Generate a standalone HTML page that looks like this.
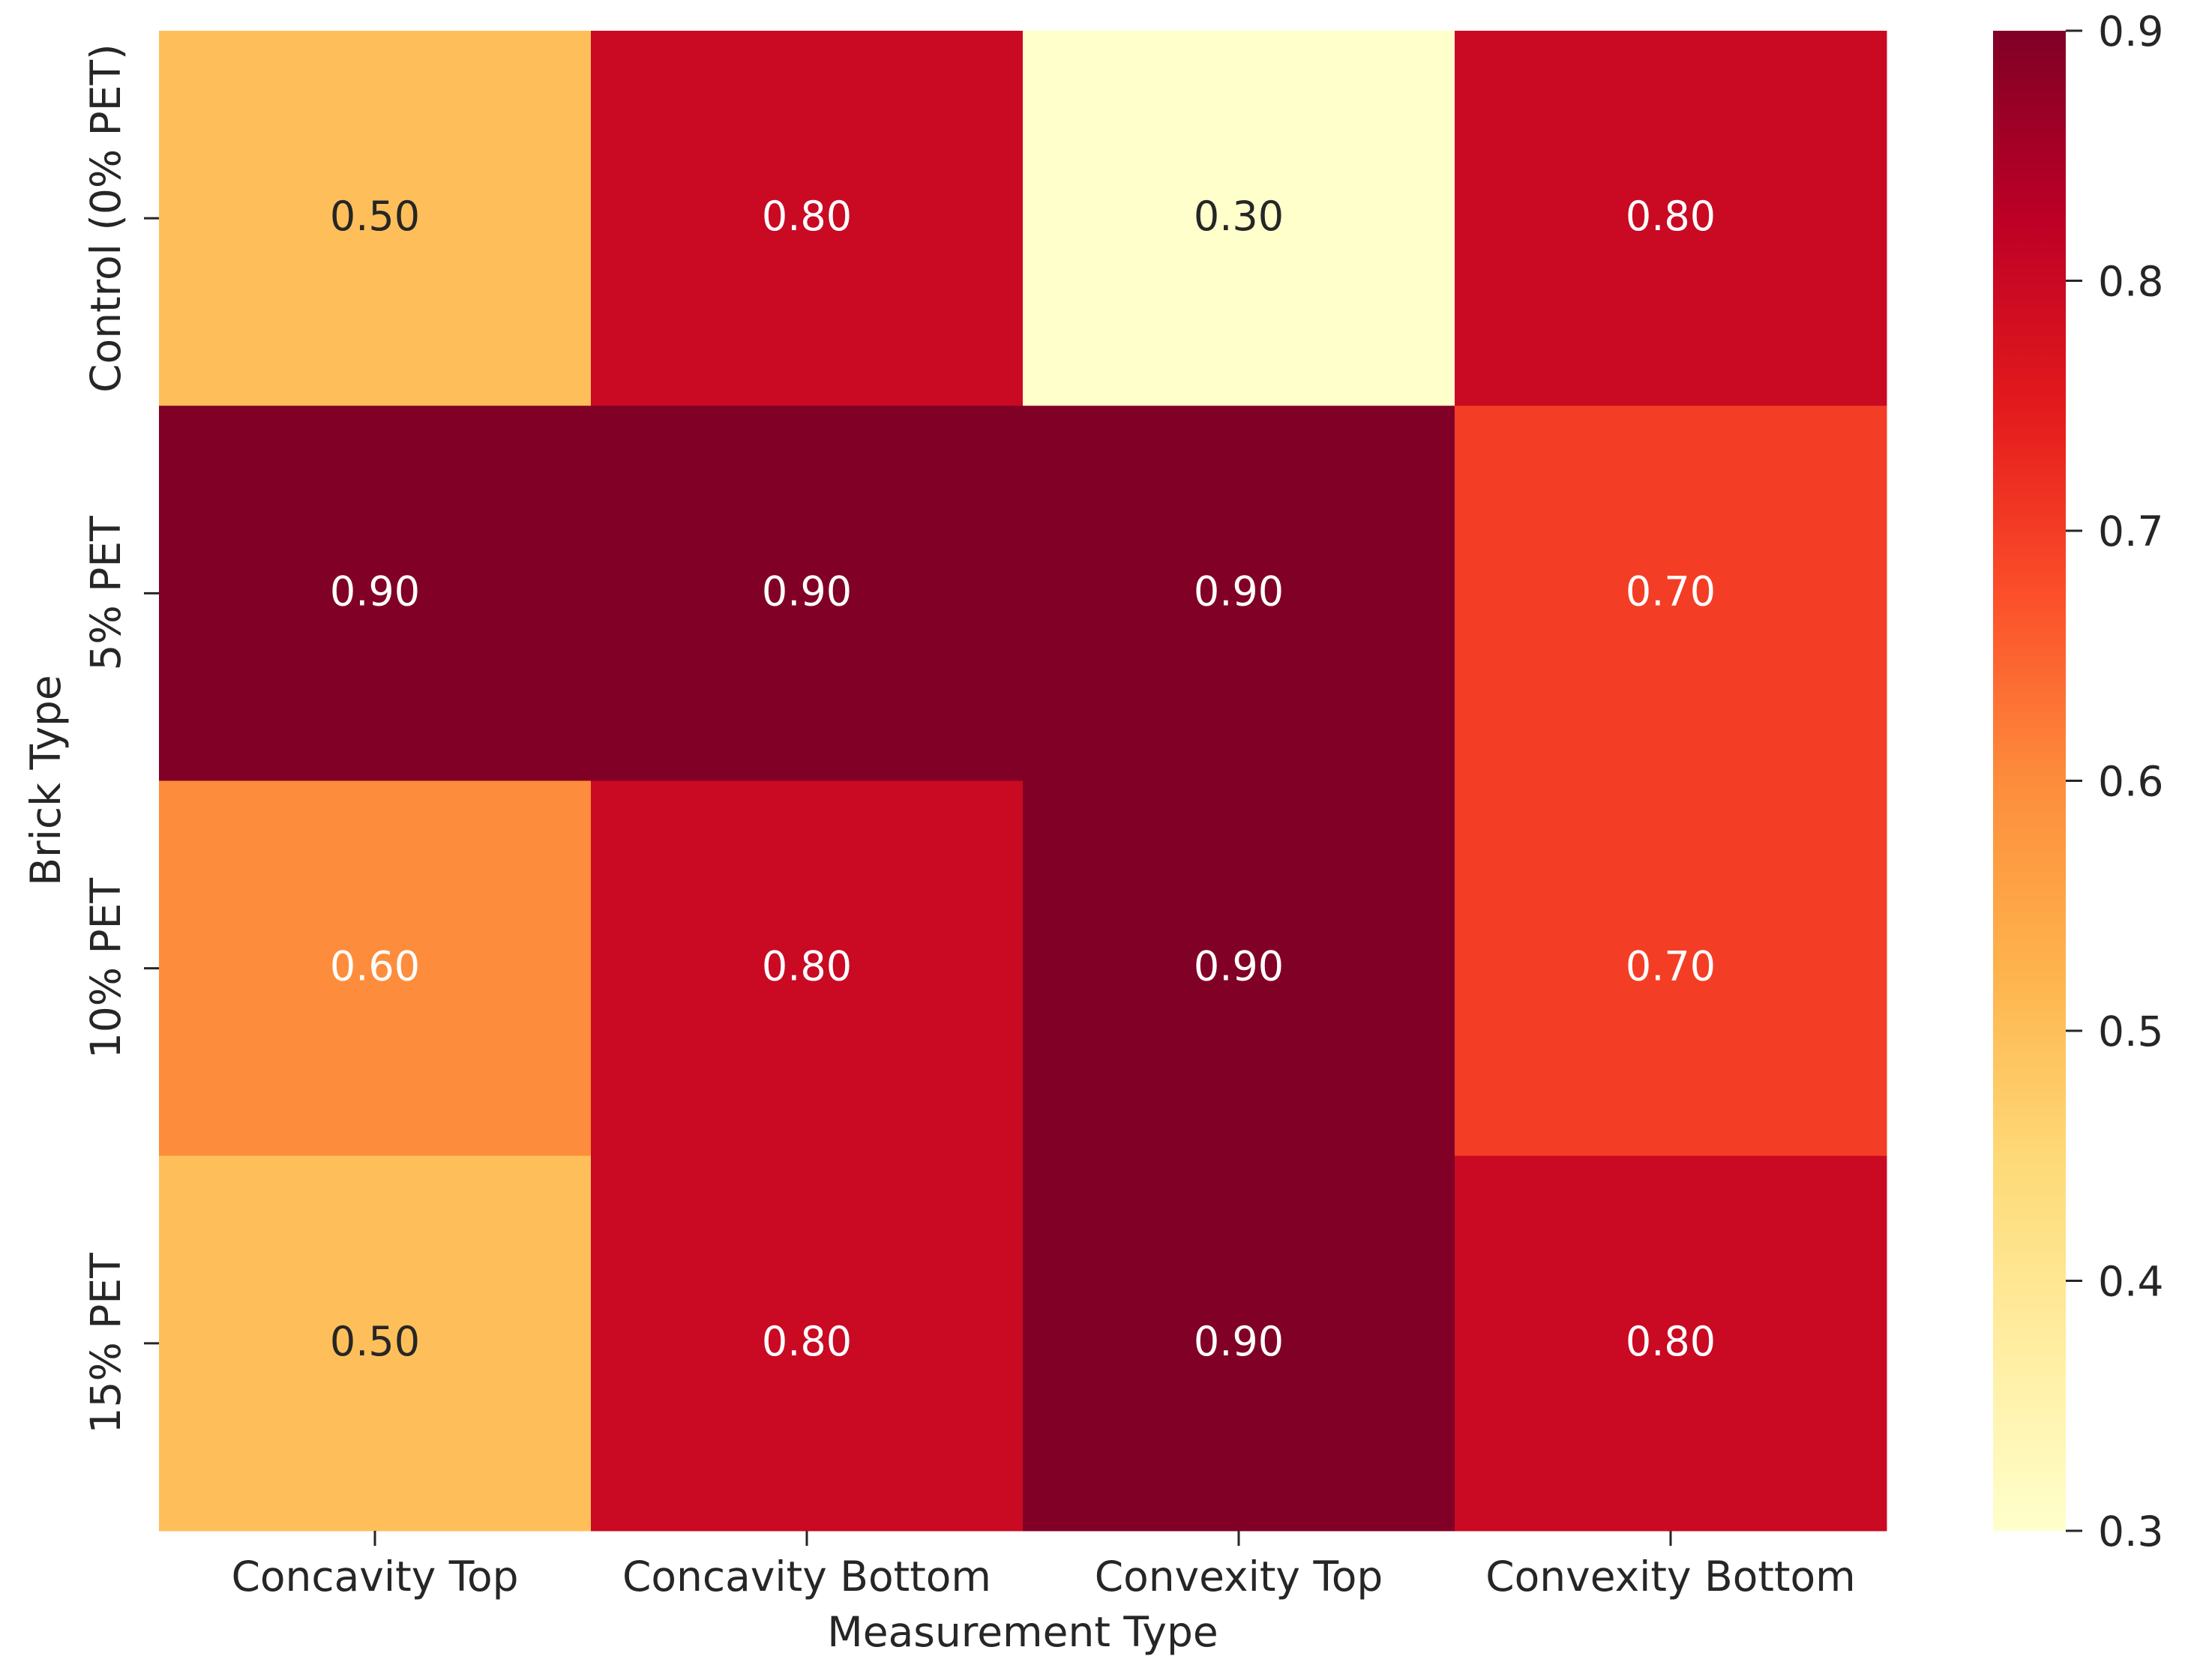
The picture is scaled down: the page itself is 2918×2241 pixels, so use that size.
<!DOCTYPE html>
<html><head><meta charset="utf-8"><style>
html,body{margin:0;padding:0;background:#fff;}
svg{display:block;font-family:"DejaVu Sans","Liberation Sans",sans-serif;}
</style></head><body>
<svg id="chart" width="2918" height="2241" viewBox="0 0 2918 2241" xmlns="http://www.w3.org/2000/svg">
<defs><linearGradient id="cbgrad" x1="0" y1="1" x2="0" y2="0"></linearGradient></defs>
<g id="cells"></g>
<g id="xaxis"></g>
<g id="yaxis"></g>
<g id="cbar"></g>
<text x="1364" y="2196" font-size="55" text-anchor="middle" fill="#262626">Measurement Type</text>
<text transform="translate(80,1041) rotate(-90)" font-size="55" text-anchor="middle" fill="#262626">Brick Type</text>
</svg>
<script>
const columns = ["Concavity Top","Concavity Bottom","Convexity Top","Convexity Bottom"];
const rows = ["Control (0% PET)","5% PET","10% PET","15% PET"];
const values = [
  [0.50,0.80,0.30,0.80],
  [0.90,0.90,0.90,0.70],
  [0.60,0.80,0.90,0.70],
  [0.50,0.80,0.90,0.80]
];
const cbTicks = [0.3,0.4,0.5,0.6,0.7,0.8,0.9];
const vmin = 0.3, vmax = 0.9;

const NS="http://www.w3.org/2000/svg";
const L=212,R=2516,T=41,B=2042;
const CBL=2658,CBR=2755;
const cw=(R-L)/columns.length, rh=(B-T)/rows.length;
const xPos=i=>L+i*cw, yPos=j=>T+j*rh;
const cbY=v=>B-(v-vmin)/(vmax-vmin)*(B-T);
const stops=["#ffffcc","#ffeda0","#fed976","#feb24c","#fd8d3c","#fc4e2a","#e31a1c","#bd0026","#800026"];
function hex(h){return [1,3,5].map(k=>parseInt(h.substr(k,2),16));}
function cmap(v){
  let t=Math.max(0,Math.min(1,(v-vmin)/(vmax-vmin)))*(stops.length-1);
  let i=Math.min(Math.floor(t),stops.length-2), f=t-i;
  let a=hex(stops[i]), b=hex(stops[i+1]);
  return a.map((c,k)=>Math.round(c+(b[k]-c)*f));
}
function mk(tag,attrs,parent){const e=document.createElementNS(NS,tag);for(const k in attrs)e.setAttribute(k,attrs[k]);parent.appendChild(e);return e;}
const cells=document.getElementById('cells');
rows.forEach((rn,j)=>{columns.forEach((cn,i)=>{
  const v=values[j][i], c=cmap(v);
  const r=mk('rect',{x:xPos(i),y:yPos(j),width:cw+0.5,height:rh+0.5,fill:`rgb(${c.join(',')})`},cells);
  
  
  const lum=(0.2126*c[0]+0.7152*c[1]+0.0722*c[2])/255;
  const t=mk('text',{x:xPos(i)+cw/2,y:yPos(j)+rh/2+16,'font-size':54,'text-anchor':'middle',fill:lum<0.7?'#ffffff':'#262626'},cells);
  t.textContent=v.toFixed(2);
  
  
});});
const xa=document.getElementById('xaxis');
columns.forEach((cn,i)=>{
  const cx=xPos(i)+cw/2;
  const tk=mk('line',{x1:cx,y1:B,x2:cx,y2:B+20,stroke:'#262626','stroke-width':3},xa);
  
  
  const t=mk('text',{x:cx,y:2122,'font-size':55,'text-anchor':'middle',fill:'#262626'},xa);
  t.textContent=cn;
  
  
});
const ya=document.getElementById('yaxis');
rows.forEach((rn,j)=>{
  const cy=yPos(j)+rh/2;
  const tk=mk('line',{x1:L-20,y1:cy,x2:L,y2:cy,stroke:'#262626','stroke-width':3},ya);
  
  
  const t=mk('text',{transform:`translate(160,${cy}) rotate(-90)`,'font-size':55,'text-anchor':'middle',fill:'#262626'},ya);
  t.textContent=rn;
  
  
});
const grad=document.getElementById('cbgrad');
for(let k=0;k<=40;k++){const v=vmin+(vmax-vmin)*k/40;mk('stop',{offset:(k/40),'stop-color':`rgb(${cmap(v).join(',')})`},grad);}
const cb=document.getElementById('cbar');
const bar=mk('rect',{x:CBL,y:T,width:CBR-CBL,height:B-T,fill:'url(#cbgrad)'},cb);


cbTicks.forEach(v=>{
  const y=cbY(v);
  const tk=mk('line',{x1:CBR,y1:y,x2:CBR+22,y2:y,stroke:'#262626','stroke-width':3},cb);
  
  
  const t=mk('text',{x:CBR+43,y:y+20,'font-size':55,fill:'#262626'},cb);
  t.textContent=v.toFixed(1);
  
  
});
</script>
</body></html>
